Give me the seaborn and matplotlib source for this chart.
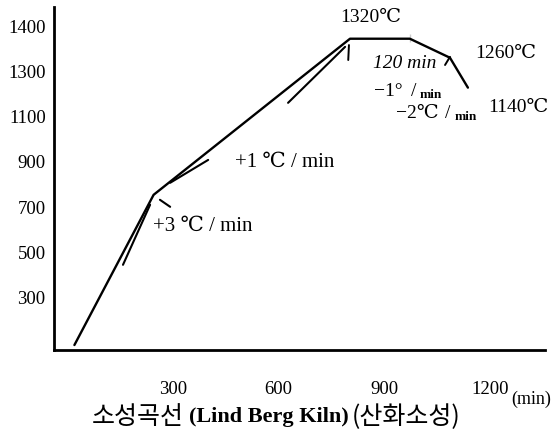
import numpy as np
import pandas as pd
import matplotlib
matplotlib.use("Agg")
import matplotlib.pyplot as plt
import seaborn as sns

# ---- data ----
time_min = [20, 245, 803, 973, 1087, 1138]
temp_c = [92, 755, 1372, 1372, 1330, 1228]

x_ticks = [300, 600, 900, 1200]
y_ticks = [300, 500, 700, 900, 1100, 1300, 1400]

# hand-drawn accent strokes (minutes, temperature)
stroke_a_x = [158, 235]
stroke_a_y = [446, 711]
stroke_b_x = [292, 400]
stroke_b_y = [808, 909]
stroke_c_x = [627, 789]
stroke_c_y = [1161, 1354]
peak_tick_x = [800, 798]
peak_tick_y = [1358, 1325]
hold_tick_x = [973, 973]
hold_tick_y = [1382, 1364]
knee_tick_x = [263, 292]
knee_tick_y = [733, 702]
hook_x = [1073, 1087]
hook_y = [1314, 1332]

sns.set_theme(style="white")
FAM = ["Liberation Serif", "DejaVu Serif", "Noto Sans CJK KR"]
KFAM = ["Noto Sans CJK KR", "DejaVu Sans"]
plt.rcParams["font.family"] = FAM

# non-linear printed axis: ticks are evenly spaced
scale_vals = [-300, -100, 100, 300, 500, 700, 900, 1100, 1300, 1400, 1500, 1600]
scale_pos = [-3, -2, -1, 0, 1, 2, 3, 4, 5, 6, 7, 8]


def fwd(v):
    return np.interp(v, scale_vals, scale_pos)


def inv(p):
    return np.interp(p, scale_pos, scale_vals)


W, H = 551, 434
fig = plt.figure(figsize=(W / 100, H / 100), dpi=100)
ax = fig.add_axes([54 / W, 1 - 350 / H, (545 - 54) / W, (350 - 7) / H])
ax.set_yscale("function", functions=(fwd, inv))

df = pd.DataFrame({"t": time_min, "T": temp_c})
sns.lineplot(data=df, x="t", y="T", sort=False, color="black", lw=1.7, ax=ax)

for sx, sy, lw in [
    (stroke_a_x, stroke_a_y, 1.5),
    (stroke_b_x, stroke_b_y, 1.5),
    (stroke_c_x, stroke_c_y, 1.5),
    (peak_tick_x, peak_tick_y, 1.4),
    (hold_tick_x, hold_tick_y, 1.2),
    (knee_tick_x, knee_tick_y, 1.5),
    (hook_x, hook_y, 1.4),
]:
    sns.lineplot(x=sx, y=sy, sort=False, color="black", lw=lw, ax=ax)

ax.set_xlim(-38, 1357)
ax.set_ylim(70, 1442)
ax.set_xticks(x_ticks)
ax.set_xticklabels([str(v) for v in x_ticks])
ax.set_yticks(y_ticks)
ax.set_yticklabels([str(v) for v in y_ticks])
ax.minorticks_off()
ax.tick_params(axis="x", direction="in", length=3, width=1, pad=22,
               labelsize=13.5, colors="black")
ax.tick_params(axis="y", length=0, pad=6, labelsize=13.5, colors="black")
ax.set_xlabel("")
ax.set_ylabel("")
for s in ["top", "right"]:
    ax.spines[s].set_visible(False)
for s in ["left", "bottom"]:
    ax.spines[s].set_color("black")
    ax.spines[s].set_linewidth(2)


def ftxt(px, py, s, size=14, ha="left", family=FAM, **kw):
    fig.text(px / W, 1 - py / H, s, fontsize=size, ha=ha, va="center",
             color="black", family=family, **kw)


ftxt(340, 18, "1320℃", size=14)
ftxt(373, 63, "120 min", size=14, style="italic")
ftxt(374, 92, "−1°", size=14)
ftxt(411, 92, "/", size=14)
ftxt(420, 95, "min", size=9.5, weight="bold")
ftxt(396, 114, "−2℃", size=14)
ftxt(445, 114, "/", size=14)
ftxt(455, 117, "min", size=9.5, weight="bold")
ftxt(475, 53, "1260℃", size=14)
ftxt(488, 108, "1140℃", size=14)
ftxt(235, 162, "+1 ℃ / min", size=15)
ftxt(153, 226, "+3 ℃ / min", size=15)
ftxt(511, 399, "(min)", size=13)
ftxt(92, 417, "소성곡선", size=18, family=KFAM)
ftxt(189, 417, "(Lind Berg Kiln)", size=16, weight="bold")
ftxt(352, 417, "(산화소성)", size=18, family=KFAM)

fig.savefig("out.png", dpi=100)
